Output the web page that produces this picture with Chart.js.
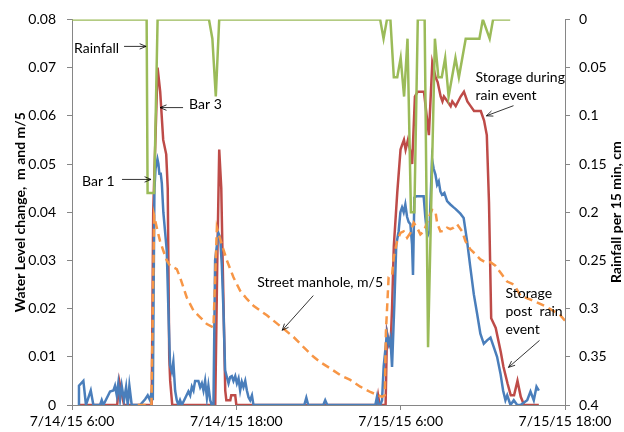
<!DOCTYPE html>
<html>
<head>
<meta charset="utf-8">
<script src="https://cdn.jsdelivr.net/npm/chart.js@4/dist/chart.umd.min.js"></script>
<style>
html, body { margin: 0; padding: 0; background: #fff; }
</style>
</head>
<body>
<canvas id="chart" width="624" height="432"></canvas>
<script>
// hours after 7/14/15 6:00
var xTickLabels = ['7/14/15 6:00', '7/14/15 18:00', '7/15/15 6:00', '7/15/15 18:00'];

// Rainfall per 15 min, cm (right axis, reversed)
var rainHours = [0, 5.45, 5.52, 6.0, 6.25, 10.0, 10.25, 10.5, 10.75, 22.5, 22.75, 23.0, 23.25, 23.5, 23.75, 24.0, 24.25, 24.5, 24.75, 25.0, 25.25, 25.75, 26.0, 26.5, 26.75, 27.0, 27.25, 27.5, 28.0, 28.25, 28.75, 29.75, 30.0, 30.5, 30.75, 32.0];
var rainValues = [0, 0, 0.18, 0.18, 0, 0, 0.02, 0.08, 0, 0, 0.02, 0, 0, 0.06, 0.06, 0.04, 0.08, 0.02, 0.2, 0.2, 0, 0, 0.34, 0.02, 0.06, 0.06, 0.04, 0.08, 0.04, 0.06, 0.02, 0.02, 0, 0.02, 0, 0];

// Street manhole, m/5
var manholeHours = [4.8, 5.8, 6.0, 6.19, 6.43, 6.67, 6.92, 7.16, 7.65, 7.89, 8.38, 8.87, 9.36, 9.85, 10.33, 10.58, 10.94, 11.31, 11.79, 12.28, 12.77, 13.25, 13.74, 14.23, 14.71, 15.45, 16.18, 16.91, 17.64, 18.13, 18.86, 19.59, 20.32, 21.05, 21.78, 22.39, 22.64, 22.84, 22.92, 23.12, 23.37, 23.49, 23.74, 23.98, 24.22, 24.47, 24.71, 24.95, 25.2, 25.44, 25.68, 26.05, 26.29, 26.54, 26.66, 26.9, 27.14, 27.39, 27.63, 27.87, 28.12, 28.49, 28.73, 29.09, 29.46, 29.82, 30.19, 30.56, 30.92, 31.41, 31.78, 32.26, 32.75, 33.72, 34.7, 35.67, 36.0];
var manholeValues = [0, 0, 0.0392, 0.0368, 0.034, 0.032, 0.030, 0.0289, 0.0282, 0.0265, 0.0223, 0.0196, 0.0182, 0.0168, 0.0161, 0.0368, 0.0333, 0.030, 0.0265, 0.0237, 0.022, 0.0206, 0.0196, 0.0186, 0.0175, 0.0158, 0.0141, 0.012, 0.0100, 0.0089, 0.0076, 0.0062, 0.0052, 0.0038, 0.0027, 0.002, 0.0017, 0.002, 0.015, 0.0265, 0.0268, 0.0306, 0.034, 0.0357, 0.036, 0.0347, 0.0357, 0.0378, 0.0368, 0.0354, 0.036, 0.0388, 0.0405, 0.0402, 0.0378, 0.036, 0.0361, 0.0368, 0.0365, 0.0368, 0.0375, 0.036, 0.034, 0.0323, 0.0313, 0.0302, 0.0296, 0.0296, 0.0289, 0.027, 0.0256, 0.025, 0.0227, 0.0216, 0.0203, 0.0186, 0.0175];

// Bar 1
var bar1Hours = [0.44, 0.51, 0.83, 1.02, 1.37, 1.56, 2.05, 2.17, 2.29, 2.78, 3.02, 3.14, 3.27, 3.38, 3.51, 3.63, 3.8, 3.95, 4.07, 4.19, 4.36, 4.97, 5.34, 5.53, 5.7, 5.83, 5.9, 6.02, 6.1, 6.24, 6.31, 6.38, 6.48, 6.56, 6.67, 6.92, 7.04, 7.16, 7.29, 7.4, 7.53, 7.65, 7.77, 7.89, 8.02, 8.26, 8.5, 8.63, 8.75, 8.87, 8.99, 9.23, 9.36, 9.48, 9.6, 9.72, 9.85, 9.96, 10.09, 10.21, 10.33, 10.45, 10.69, 10.82, 10.94, 11.06, 11.18, 11.31, 11.43, 11.55, 11.67, 11.79, 11.92, 12.04, 12.16, 12.28, 12.4, 12.52, 12.65, 12.77, 12.89, 13.01, 13.14, 13.25, 16.96, 17.11, 17.25, 18.35, 18.49, 18.64, 22.15, 22.27, 22.39, 22.51, 22.64, 22.76, 23.0, 23.12, 23.25, 23.37, 23.54, 23.68, 23.85, 23.98, 24.1, 24.22, 24.34, 24.47, 24.58, 24.71, 24.83, 24.9, 25.0, 25.15, 25.44, 25.68, 25.8, 25.95, 26.1, 26.29, 26.41, 26.54, 26.66, 26.78, 26.9, 27.02, 27.19, 27.39, 27.63, 27.87, 28.0, 28.36, 28.6, 28.85, 29.09, 29.34, 29.58, 29.82, 30.07, 30.31, 30.56, 30.8, 31.04, 31.29, 31.48, 31.65, 31.78, 32.02, 32.26, 32.51, 32.75, 33.24, 33.48, 33.72, 33.92, 34.09];
var bar1Values = [0, 0.004, 0.005, 0, 0.003, 0, 0, 0.001, 0, 0.0028, 0.003, 0.004, 0.002, 0.0045, 0.0012, 0.004, 0.001, 0.0037, 0, 0.004, 0, 0, 0.0012, 0.002, 0.001, 0.003, 0.001, 0.045, 0.049, 0.051, 0.050, 0.048, 0.048, 0.046, 0.040, 0.032, 0.0196, 0.0082, 0.0069, 0.009, 0.003, 0.001, 0, 0.001, 0, 0.0014, 0.0028, 0.002, 0.0038, 0.003, 0.005, 0.005, 0.0037, 0.0045, 0.003, 0.005, 0.0015, 0.004, 0.001, 0, 0, 0.030, 0.0357, 0.0347, 0.029, 0.0196, 0.0072, 0.0058, 0.0045, 0.0058, 0.006, 0.005, 0.006, 0.0045, 0.0055, 0.003, 0.0048, 0.0037, 0.005, 0.003, 0.0016, 0.001, 0.002, 0, 0, 0.0015, 0, 0, 0.001, 0, 0, 0.0017, 0, 0, 0.001, 0.008, 0.0148, 0.0127, 0.014, 0.0079, 0.021, 0.0333, 0.036, 0.040, 0.041, 0.040, 0.0416, 0.039, 0.038, 0.0375, 0.0333, 0.027, 0.043, 0.0433, 0.0433, 0.0433, 0.039, 0.035, 0.036, 0.051, 0.049, 0.0478, 0.0457, 0.0464, 0.0443, 0.0436, 0.044, 0.0423, 0.0416, 0.041, 0.0407, 0.0397, 0.0388, 0.034, 0.0285, 0.023, 0.019, 0.0148, 0.0127, 0.0134, 0.014, 0.012, 0.010, 0.0065, 0.003, 0.001, 0.002, 0, 0.001, 0, 0, 0.001, 0.0028, 0.001, 0.0038, 0.003];

// Bar 3 (storage)
var bar3Hours = [0.44, 3.3, 3.45, 3.8, 5.82, 5.93, 6.25, 6.44, 6.66, 6.88, 6.99, 7.1, 7.17, 7.32, 10.46, 10.61, 10.75, 10.9, 11.0, 11.19, 11.27, 11.56, 11.63, 11.92, 12.0, 22.24, 22.35, 22.46, 22.9, 23.0, 23.14, 23.26, 23.37, 23.5, 23.75, 23.99, 24.11, 24.24, 24.36, 24.53, 24.68, 24.84, 25.04, 25.24, 25.46, 25.7, 25.9, 26.06, 26.31, 26.55, 26.7, 26.92, 27.05, 27.16, 27.41, 27.65, 27.77, 28.02, 28.38, 28.62, 28.87, 29.11, 29.36, 29.6, 29.85, 30.09, 30.29, 30.45, 30.61, 30.94, 31.31, 31.5, 31.8, 32.04, 32.28, 32.53, 32.77, 33.01, 34.09];
var bar3Values = [0, 0, 0.005, 0, 0, 0.04, 0.07, 0.065, 0.055, 0.052, 0.045, 0.01, 0.005, 0, 0, 0.03, 0.053, 0.045, 0.03, 0.003, 0.001, 0.001, 0.002, 0.002, 0, 0, 0.002, 0, 0, 0.015, 0.013, 0.012, 0.02, 0.033, 0.044, 0.053, 0.054, 0.055, 0.053, 0.055, 0.053, 0.050, 0.064, 0.065, 0.065, 0.065, 0.060, 0.056, 0.071, 0.068, 0.067, 0.064, 0.063, 0.064, 0.063, 0.062, 0.063, 0.062, 0.064, 0.065, 0.063, 0.062, 0.061, 0.061, 0.061, 0.059, 0.056, 0.042, 0.018, 0.016, 0.011, 0.008, 0.0045, 0.002, 0.002, 0.005, 0.0017, 0, 0];

// callouts: [text lines, hour, level] and arrows [fromHour, fromLevel, toHour, toLevel]
var notes = [
    [['Rainfall'], 0.15, 0.0740],
    [['Bar 3'], 8.55, 0.0623],
    [['Bar 1'], 0.73, 0.0464],
    [['Street manhole, m/5'], 13.52, 0.0254],
    [['Storage during', 'rain event'], 29.46, 0.0680],
    [['Storage', 'post  rain', 'event'], 31.65, 0.0231]
];
var arrows = [
    [3.80, 0.0744, 5.41, 0.0744],
    [8.11, 0.0617, 6.43, 0.0617],
    [3.65, 0.0468, 5.77, 0.0468],
    [17.62, 0.0227, 15.35, 0.0155],
    [32.24, 0.0621, 30.26, 0.0600],
    [34.14, 0.0134, 31.87, 0.0078]
];

function pts(xs, ys) {
    return xs.map(function (x, i) { return {x: x, y: ys[i]}; });
}

var FONT = 'Lato';
var axisGray = '#868686';

var calloutPlugin = {
    id: 'callouts',
    afterDraw: function (chart) {
        var ctx = chart.ctx;
        var sx = chart.scales.x, sy = chart.scales.y;
        ctx.save();
        ctx.fillStyle = '#000';
        ctx.font = '14px ' + FONT;
        ctx.textBaseline = 'middle';
        ctx.textAlign = 'left';
        notes.forEach(function (n) {
            var x = sx.getPixelForValue(n[1]);
            var y = sy.getPixelForValue(n[2]);
            n[0].forEach(function (line, i) {
                ctx.fillText(line, x, y + i * 18);
            });
        });
        ctx.strokeStyle = '#000';
        ctx.lineWidth = 0.8;
        arrows.forEach(function (a) {
            var x1 = sx.getPixelForValue(a[0]), y1 = sy.getPixelForValue(a[1]);
            var x2 = sx.getPixelForValue(a[2]), y2 = sy.getPixelForValue(a[3]);
            var ang = Math.atan2(y2 - y1, x2 - x1);
            ctx.beginPath();
            ctx.moveTo(x1, y1);
            ctx.lineTo(x2, y2);
            ctx.moveTo(x2 - 7 * Math.cos(ang - 0.4), y2 - 7 * Math.sin(ang - 0.4));
            ctx.lineTo(x2, y2);
            ctx.lineTo(x2 - 7 * Math.cos(ang + 0.4), y2 - 7 * Math.sin(ang + 0.4));
            ctx.stroke();
        });
        // right axis title, reading upward
        var ca = chart.chartArea;
        ctx.translate(616, (ca.top + ca.bottom) / 2);
        ctx.rotate(-Math.PI / 2);
        ctx.textAlign = 'center';
        ctx.font = 'bold 14px ' + FONT;
        ctx.fillText('Rainfall per 15 min, cm', 0, 0);
        ctx.restore();
    }
};

new Chart(document.getElementById('chart'), {
    type: 'line',
    data: {
        datasets: [
            {
                label: 'Rainfall',
                data: pts(rainHours, rainValues),
                yAxisID: 'y2',
                borderColor: '#9BBB59',
                borderWidth: 2.5
            },
            {
                label: 'Street manhole, m/5',
                data: pts(manholeHours, manholeValues),
                yAxisID: 'y',
                borderColor: '#F79646',
                borderWidth: 2.5,
                borderDash: [8, 5]
            },
            {
                label: 'Bar 1',
                data: pts(bar1Hours, bar1Values),
                yAxisID: 'y',
                borderColor: '#4A7EBB',
                borderWidth: 2.5
            },
            {
                label: 'Bar 3',
                data: pts(bar3Hours, bar3Values),
                yAxisID: 'y',
                borderColor: '#BE4B48',
                borderWidth: 2.5
            }
        ]
    },
    options: {
        responsive: false,
        animation: false,
        events: [],
        layout: {padding: {top: 17, right: 0, bottom: 0, left: 0}},
        elements: {point: {radius: 0}, line: {tension: 0, borderCapStyle: 'butt'}},
        plugins: {legend: {display: false}, tooltip: {enabled: false}},
        scales: {
            x: {
                type: 'linear',
                min: 0,
                max: 36,
                afterFit: function (s) { s.height = 27; },
                border: {color: axisGray, width: 1},
                grid: {drawOnChartArea: false, drawTicks: true, tickLength: 5, color: axisGray},
                ticks: {
                    stepSize: 12,
                    padding: 3,
                    maxRotation: 0,
                    color: '#000',
                    font: {family: FONT, size: 14},
                    callback: function (v) { return xTickLabels[Math.round(v / 12)]; }
                }
            },
            y: {
                position: 'left',
                min: 0,
                max: 0.08,
                afterFit: function (s) { s.width = 72; },
                border: {color: axisGray, width: 1},
                grid: {drawOnChartArea: false, drawTicks: true, tickLength: 5, color: axisGray},
                ticks: {
                    stepSize: 0.01,
                    padding: 11,
                    color: '#000',
                    font: {family: FONT, size: 14},
                    callback: function (v) { return String(+v.toFixed(2)); }
                },
                title: {
                    display: true,
                    text: 'Water Level change,  m and m/5',
                    color: '#000',
                    font: {family: FONT, size: 14, weight: 'bold'},
                    padding: {top: 12, bottom: 0}
                }
            },
            y2: {
                position: 'right',
                min: 0,
                max: 0.4,
                reverse: true,
                afterFit: function (s) { s.width = 59; },
                border: {color: axisGray, width: 1},
                grid: {drawOnChartArea: false, drawTicks: true, tickLength: 5, color: axisGray},
                ticks: {
                    stepSize: 0.05,
                    padding: 9,
                    color: '#000',
                    font: {family: FONT, size: 14},
                    callback: function (v) { return String(+v.toFixed(2)); }
                }
            }
        }
    },
    plugins: [calloutPlugin]
});
</script>
</body>
</html>
